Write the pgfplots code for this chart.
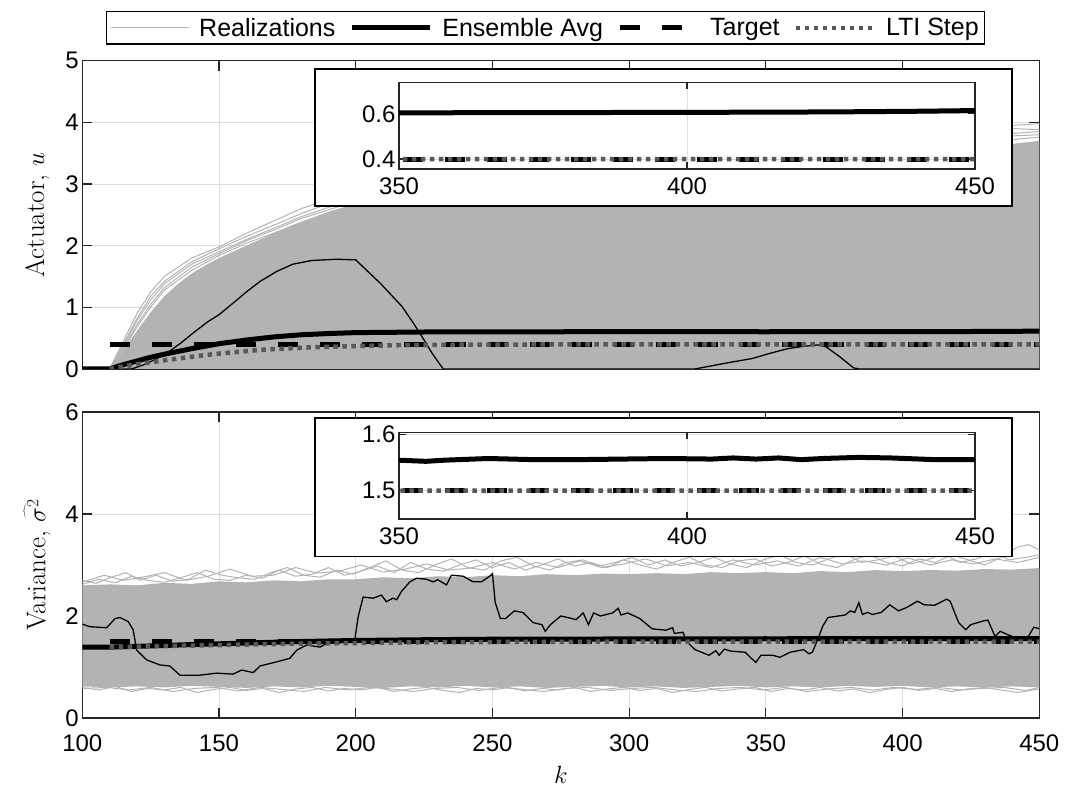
\documentclass[border=0pt]{standalone}
\usepackage{fontspec}
\usepackage{pgfplots}
\usepackage{pgfplotstable}
\pgfplotsset{compat=1.18}
\newfontfamily\helv{Liberation Sans}
\definecolor{realgray}{RGB}{179,179,179}
\definecolor{ltigray}{RGB}{88,88,88}
\definecolor{gridgray}{RGB}{222,222,222}
\definecolor{axgray}{RGB}{38,38,38}

% ---------- top panel data ----------
\pgfplotstableread{
k v
100 0
110 0
115 0.07
120 0.13
125 0.19
130 0.24
140 0.33
150 0.41
160 0.47
170 0.52
180 0.555
190 0.575
200 0.59
225 0.60
250 0.603
300 0.605
350 0.604
375 0.605
400 0.606
425 0.608
440 0.611
450 0.614
}\avgU
\pgfplotstableread{
k v
110 0
115 0.04
120 0.08
130 0.14
140 0.20
150 0.25
165 0.31
180 0.345
190 0.36
200 0.372
215 0.385
240 0.394
270 0.398
300 0.40
450 0.40
}\ltiU
\pgfplotstableread{
k v
110 0.4
450 0.4
}\tgtU
% ---------- bottom panel data ----------
\pgfplotstableread{
k v
100 1.39
110 1.39
120 1.405
140 1.44
160 1.47
180 1.50
200 1.52
225 1.535
250 1.545
300 1.55
350 1.554
354.7 1.552
357.8 1.554
365.5 1.557
373.3 1.555
381 1.555
388.8 1.556
396.5 1.557
404.3 1.556
408 1.558
412 1.556
415.9 1.558
419.8 1.555
423.6 1.557
429.8 1.559
435.3 1.558
443 1.555
450 1.555
}\avgL
\pgfplotstableread{
k v
110 1.39
130 1.41
150 1.43
175 1.455
200 1.47
225 1.485
250 1.49
300 1.497
350 1.50
450 1.50
}\ltiL
\pgfplotstableread{
k v
110 1.5
450 1.5
}\tgtL

\pgfplotsset{
  myaxis/.style={
    scale only axis, anchor=south west,
    grid=major, major grid style={gridgray, line width=0.8pt},
    axis line style={axgray, line width=1.2pt},
    tick style={axgray, line width=1.2pt},
    tick align=inside,
    tick label style={font=\helv\fontsize{24}{28}\selectfont, text=black},
    /pgf/number format/assume math mode=true,
    label style={font=\fontsize{27}{32}\selectfont},
    legend image code/.code={\draw[#1] (0pt,0pt) -- (78pt,0pt);},
  },
  mainaxis/.style={myaxis, width=957pt, xmin=100, xmax=450,
    xtick={100,150,...,450}, major tick length=10pt},
  insetaxis/.style={myaxis, width=576pt, height=86.5pt, xmin=350, xmax=450,
    xtick={350,400,450}, major tick length=7pt,
    xticklabel style={yshift=-5pt}},
  avgstyle/.style={black, line width=5pt},
  tgtstyle/.style={black, line width=5pt, dash pattern=on 20pt off 22pt},
  ltistyle/.style={ltigray, line width=4.5pt, dash pattern=on 4.5pt off 4.5pt},
  realstyle/.style={realgray, line width=1pt},
}

\begin{document}
\begin{tikzpicture}
\useasboundingbox (0,0) rectangle (1065pt,790pt);

% ================= TOP PANEL =================
\begin{axis}[mainaxis, at={(82.3pt,421pt)}, height=308.3pt,
  ymin=0, ymax=5, ytick={0,1,...,5}, xticklabels={},
  ylabel={Actuator, $u$},
  ylabel style={at={(axis description cs:-0.047,0.5)}, anchor=center},
  legend columns=4,
  legend style={at={(axis description cs:0.484,1)}, anchor=south, yshift=16pt,
    draw=black, line width=1.2pt, fill=white,
    font=\helv\fontsize{25}{29}\selectfont, inner xsep=4pt, inner ysep=4.5pt,
    /tikz/every odd column/.append style={column sep=8pt},
    /tikz/every even column/.append style={column sep=12pt}},
]
\addplot[fill=realgray, draw=none, forget plot] coordinates {
(100,0)(110,0)(112,0.12)(115,0.3)(120,0.62)(125,0.92)(130,1.18)(135,1.38)
(140,1.55)(145,1.68)(150,1.8)(160,2.0)(170,2.2)(180,2.38)(190,2.55)(200,2.68)
(220,2.85)(250,3.05)(300,3.25)(350,3.4)(400,3.55)(430,3.62)(440,3.65)(450,3.7)(450,0)};
\addplot[realstyle, forget plot] coordinates {
(110,0)(115,0.4)(120,0.82)(125,1.18)(130,1.42)(140,1.74)(150,1.95)(160,2.15)(171,2.35)(180,2.52)
(190,2.68)(200,2.8)(220,3.0)(250,3.2)(300,3.42)(350,3.62)(400,3.78)(430,3.85)(440,3.9)(450,3.88)};
\addplot[realstyle, forget plot] coordinates {
(110,0)(115,0.38)(120,0.78)(125,1.12)(130,1.38)(140,1.7)(150,1.9)(160,2.1)(171,2.3)(180,2.47)
(190,2.62)(200,2.75)(220,2.95)(250,3.15)(300,3.38)(350,3.55)(400,3.72)(430,3.8)(440,3.82)(450,3.85)};
\addplot[realstyle, forget plot] coordinates {
(110,0)(115,0.35)(120,0.72)(125,1.05)(130,1.32)(140,1.65)(150,1.87)(160,2.08)(171,2.27)(180,2.44)
(190,2.58)(200,2.72)(220,2.92)(250,3.12)(300,3.33)(350,3.5)(400,3.66)(430,3.75)(440,3.78)(450,3.8)};
\addplot[realstyle, forget plot] coordinates {
(110,0)(115,0.32)(120,0.68)(125,1.0)(130,1.28)(140,1.6)(150,1.84)(160,2.04)(171,2.22)(180,2.38)
(190,2.53)(200,2.66)(220,2.88)(250,3.08)(300,3.3)(350,3.46)(400,3.62)(430,3.7)(440,3.72)(450,3.76)};
\addplot[realstyle] coordinates {
(110,0)(115,0.45)(120,0.9)(125,1.25)(130,1.5)(140,1.8)(150,1.98)(160,2.2)(171,2.42)(180,2.6)
(190,2.75)(200,2.88)(220,3.05)(250,3.25)(300,3.5)(350,3.7)(400,3.85)(430,3.92)(440,3.95)(450,3.98)};
\addlegendentry{Realizations}
% single realization
\addplot[black, line width=1.3pt, forget plot] coordinates {
(100,0)(118,0)(122,0.06)(126,0.14)(131,0.26)(136,0.42)(141,0.6)(146,0.77)(150,0.88)(156,1.1)
(160,1.25)(165,1.42)(171,1.58)(177,1.7)(184,1.76)(193,1.78)(200,1.77)(204,1.6)(209,1.39)
(213,1.2)(217,1.01)(221,0.75)(225,0.47)(228,0.25)(232,0)(324,0)(330,0.05)(336,0.1)(345,0.17)
(352,0.26)(358,0.33)(364,0.37)(369,0.39)(372,0.36)(377,0.2)(382,0.02)(384,0)(450,0)};
\addplot[avgstyle] table[x=k, y=v] {\avgU};
\addlegendentry{Ensemble Avg}
\addplot[tgtstyle] table[x=k, y=v] {\tgtU};
\addlegendentry{Target}
\addplot[ltistyle] table[x=k, y=v] {\ltiU};
\addlegendentry{LTI Step}
\end{axis}

% inset 1
\filldraw[fill=white, draw=black, line width=1.2pt] (315pt,584pt) rectangle (1012pt,721pt);
\begin{axis}[insetaxis, at={(399pt,621pt)}, ymin=0.356, ymax=0.738,
  ytick={0.4,0.6}, yticklabels={0.4,0.6}]
\addplot[avgstyle] table[x=k, y=v] {\avgU};
\addplot[tgtstyle] table[x=k, y=v] {\tgtU};
\addplot[ltistyle] table[x=k, y=v] {\ltiU};
\end{axis}

% ================= BOTTOM PANEL =================
\begin{axis}[mainaxis, at={(82.3pt,72pt)}, height=306pt,
  ymin=0, ymax=6, ytick={0,2,4,6},
  ylabel={Variance, $\widehat{\sigma^2}$},
  ylabel style={at={(axis description cs:-0.047,0.5)}, anchor=center},
  xlabel={$k$},
  xlabel style={at={(axis description cs:0.5,-0.186)}, anchor=center},
  xticklabel style={yshift=-13pt},
]
\addplot[fill=realgray, draw=none] coordinates {
(100,2.6)(110,2.62)(120,2.6)(130,2.65)(140,2.63)(150,2.68)(160,2.66)(170,2.7)(180,2.68)(190,2.72)
(200,2.72)(210,2.76)(220,2.74)(230,2.78)(240,2.76)(250,2.8)(260,2.78)(270,2.82)(280,2.8)(290,2.83)
(300,2.82)(310,2.84)(320,2.82)(330,2.86)(340,2.84)(350,2.86)(360,2.84)(370,2.88)(380,2.86)(390,2.9)
(400,2.88)(410,2.9)(420,2.89)(430,2.92)(440,2.91)(450,2.94)
(450,0.6)(440,0.62)(430,0.6)(420,0.62)(410,0.6)(400,0.63)(390,0.61)(380,0.63)(370,0.6)(360,0.62)
(350,0.6)(340,0.63)(330,0.61)(320,0.59)(310,0.62)(300,0.6)(290,0.63)(280,0.61)(270,0.59)(260,0.62)
(250,0.6)(240,0.63)(230,0.6)(220,0.62)(210,0.59)(200,0.61)(190,0.63)(180,0.6)(170,0.62)(160,0.59)
(150,0.61)(140,0.63)(130,0.6)(120,0.62)(110,0.6)(100,0.62)};
\addplot[realstyle] coordinates {
(100,2.62)(106,2.72)(112,2.65)(118,2.78)(124,2.7)(130,2.66)(136,2.75)(142,2.85)(148,2.72)(154,2.7)
(160,2.8)(166,2.74)(172,2.9)(178,2.78)(184,2.82)(190,2.95)(196,2.8)(202,2.88)(208,2.98)(214,2.85)
(220,3.05)(226,2.92)(232,2.88)(238,3.0)(244,3.1)(250,2.95)(256,3.05)(262,2.9)(268,3.0)(274,3.12)
(280,2.98)(286,3.05)(292,2.95)(298,3.1)(304,3.0)(310,2.92)(316,3.05)(322,3.15)(328,3.0)(334,2.95)
(340,3.08)(346,3.12)(352,2.98)(358,3.05)(364,3.18)(370,3.02)(376,2.95)(382,3.1)(388,3.2)(394,3.05)
(400,2.98)(406,3.12)(412,3.05)(418,3.2)(424,3.1)(430,3.0)(436,3.15)(442,3.35)(446,3.4)(450,3.3)};
\addplot[realstyle] coordinates {
(100,2.7)(105,2.64)(110,2.75)(116,2.85)(121,2.7)(127,2.8)(133,2.68)(139,2.72)(145,2.9)(151,2.8)
(157,2.75)(163,2.72)(169,2.85)(175,2.95)(181,2.8)(187,2.76)(193,2.9)(199,2.82)(205,2.95)(211,3.08)
(217,2.9)(223,2.85)(229,3.0)(235,3.12)(241,2.95)(247,2.9)(253,3.08)(259,3.15)(265,2.98)(271,2.9)
(277,3.05)(283,3.1)(289,2.98)(295,3.05)(301,3.15)(307,3.0)(313,3.1)(319,2.98)(325,3.05)(331,3.15)
(337,3.02)(343,2.95)(349,3.1)(355,3.2)(361,3.05)(367,3.0)(373,3.12)(379,3.22)(385,3.05)(391,3.1)
(397,3.18)(403,3.02)(409,3.1)(415,3.22)(421,3.05)(427,3.12)(433,3.25)(439,3.1)(445,3.15)(450,3.2)};
\addplot[realstyle] coordinates {
(100,2.66)(108,2.8)(115,2.7)(122,2.76)(130,2.85)(138,2.7)(146,2.78)(154,2.92)(162,2.78)(170,2.8)
(178,2.95)(186,2.84)(194,2.88)(202,3.0)(210,2.86)(218,2.92)(226,3.02)(234,2.9)(242,2.94)(250,3.05)
(258,2.92)(266,3.05)(274,2.95)(282,3.08)(290,2.95)(298,3.02)(306,3.12)(314,2.98)(322,3.05)(330,2.95)
(338,3.1)(346,3.0)(354,3.08)(362,2.98)(370,3.15)(378,3.02)(386,3.08)(394,3.0)(402,3.14)(410,3.0)
(418,3.1)(426,3.02)(434,3.12)(442,3.05)(450,3.15)};
\addplot[realstyle] coordinates {
(100,0.6)(106,0.55)(112,0.62)(118,0.52)(124,0.58)(130,0.55)(136,0.6)(142,0.5)(148,0.56)(154,0.6)
(160,0.54)(166,0.58)(172,0.5)(178,0.57)(184,0.6)(190,0.53)(196,0.58)(202,0.55)(208,0.6)(214,0.52)
(220,0.57)(226,0.6)(232,0.54)(238,0.5)(244,0.58)(250,0.55)(256,0.6)(262,0.53)(268,0.58)(274,0.55)
(280,0.6)(286,0.52)(292,0.57)(298,0.6)(304,0.54)(310,0.58)(316,0.5)(322,0.56)(328,0.6)(334,0.53)
(340,0.57)(346,0.6)(352,0.52)(358,0.58)(364,0.55)(370,0.6)(376,0.53)(382,0.57)(388,0.5)(394,0.56)
(400,0.6)(406,0.54)(412,0.58)(418,0.52)(424,0.57)(430,0.6)(436,0.55)(442,0.5)(450,0.57)};
\addplot[realstyle] coordinates {
(100,0.58)(109,0.6)(117,0.55)(125,0.6)(133,0.52)(141,0.58)(149,0.6)(157,0.53)(165,0.6)(173,0.56)
(181,0.52)(189,0.6)(197,0.55)(205,0.6)(213,0.57)(221,0.52)(229,0.58)(237,0.6)(245,0.54)(253,0.6)
(261,0.56)(269,0.52)(277,0.58)(285,0.6)(293,0.54)(301,0.58)(309,0.6)(317,0.55)(325,0.52)(333,0.58)
(341,0.6)(349,0.55)(357,0.6)(365,0.52)(373,0.57)(381,0.6)(389,0.55)(397,0.6)(405,0.56)(413,0.6)
(421,0.55)(429,0.58)(437,0.6)(445,0.54)(450,0.6)};
% single realization
\addplot[black, line width=1.3pt] coordinates {
(100,1.84)(102.8,1.79)(108.9,1.77)(112,1.95)(113.8,1.97)(116.8,1.89)(118.6,1.73)(119.9,1.33)
(123.5,1.14)(128.4,1.04)(132,1.02)(135.7,0.84)(143,0.84)(149.1,0.88)(155.1,0.86)(158.3,0.94)
(162.5,0.89)(165,1.02)(171,1.1)(175.9,1.17)(178.4,1.33)(182,1.43)(186.9,1.39)(189.3,1.46)
(195.4,1.53)(199.7,1.55)(200.9,1.99)(202.7,2.37)(206.4,2.35)(209.4,2.41)(211.2,2.28)(213.6,2.35)
(215,2.32)(216.7,2.48)(219.8,2.67)(222.2,2.74)(225.9,2.72)(228.3,2.67)(230,2.71)(233.2,2.61)
(235,2.8)(239.3,2.78)(242.9,2.67)(246,2.67)(249,2.78)(250,2.83)(251,2.27)(252.9,1.95)(254.8,1.95)
(258,2.1)(261.1,2.07)(264.9,1.87)(268.1,1.83)(269.3,1.7)(271.2,1.83)(275,2.0)(277.5,1.97)
(280.6,1.93)(283.2,2.06)(285.1,1.83)(287,2.06)(289.5,2.0)(293.9,2.06)(296,2.15)(297,2.02)
(299.5,2.06)(303.9,1.95)(308.4,1.75)(313.4,1.72)(315.9,1.77)(316.5,1.66)(319.7,1.68)(321,1.5)
(324.1,1.34)(329.2,1.23)(331.7,1.32)(332.9,1.23)(334.8,1.35)(337.3,1.31)(342.4,1.29)(344.3,1.19)
(346.3,1.09)(348.2,1.23)(352.6,1.23)(355.1,1.19)(358.9,1.29)(363.8,1.34)(365.7,1.26)(367,1.29)
(368.9,1.53)(370.8,1.8)(372.7,1.97)(379,2.02)(380.9,2.1)(382.5,2.07)(384,2.26)(385.3,2.03)
(387.2,2.07)(389,2.03)(392.2,2.07)(395.3,2.22)(398.5,2.1)(401.6,2.17)(405.4,2.29)(407.9,2.22)
(411.7,2.21)(416.1,2.33)(417.4,2.29)(420.5,1.87)(423.1,1.73)(424.9,1.83)(429.3,1.9)(431.2,1.92)
(433.8,1.6)(435.7,1.7)(438.2,1.64)(442,1.56)(446,1.6)(448,1.78)(450,1.75)};
\addplot[avgstyle] table[x=k, y=v] {\avgL};
\addplot[tgtstyle] table[x=k, y=v] {\tgtL};
\addplot[ltistyle] table[x=k, y=v] {\ltiL};
\end{axis}

% inset 2
\filldraw[fill=white, draw=black, line width=1.2pt] (315pt,233.3pt) rectangle (1012pt,372pt);
\begin{axis}[insetaxis, at={(399pt,271pt)}, ymin=1.45, ymax=1.603,
  ytick={1.5,1.6}, yticklabels={1.5,1.6}]
\addplot[avgstyle] table[x=k, y=v] {\avgL};
\addplot[tgtstyle] table[x=k, y=v] {\tgtL};
\addplot[ltistyle] table[x=k, y=v] {\ltiL};
\end{axis}
\end{tikzpicture}
\end{document}
